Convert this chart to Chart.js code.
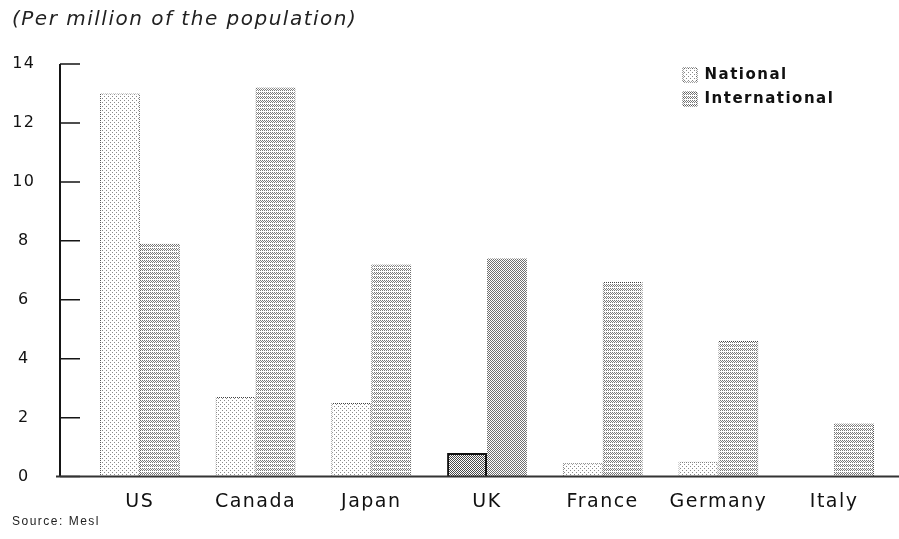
<!DOCTYPE html>
<html>
<head>
<meta charset="utf-8">
<script src="https://cdn.jsdelivr.net/npm/chart.js@4/dist/chart.umd.min.js"></script>
<style>
  html, body { margin: 0; padding: 0; background: #fff; }
  #wrap { width: 899px; height: 539px; }
</style>
</head>
<body>
<div id="wrap"><canvas id="chart"></canvas></div>
<script>
const countries = ["US", "Canada", "Japan", "UK", "France", "Germany", "Italy"];
const national = [13.0, 2.7, 2.5, 0.8, 0.45, 0.5, 0];
const international = [7.9, 13.2, 7.2, 7.4, 6.6, 4.6, 1.8];
const seriesNames = ["National", "International"];
const yMax = 14;
const yStep = 2;
const highlight = countries.indexOf("UK");

/* halftone-ish fills */
function makePattern(size, ink, cells) {
  const c = document.createElement("canvas");
  c.width = c.height = size;
  const g = c.getContext("2d");
  g.fillStyle = "#fff";
  g.fillRect(0, 0, size, size);
  g.fillStyle = ink;
  cells.forEach(([x, y]) => g.fillRect(x, y, 1, 1));
  return g.createPattern(c, "repeat");
}

const natFill = makePattern(4, "#8a8a8a", [[0,0],[2,2]]);
const intFill = makePattern(4, "#7a7a7a", [[0,0],[2,0],[1,1],[3,1],[0,2],[2,2]]);
const ukNatFill = makePattern(2, "#4a4a4a", [[0,0],[1,1]]);
const ukIntFill = makePattern(2, "#707070", [[0,0],[1,1]]);
const dotted = makePattern(2, "#444", [[0,0],[1,1]]);

/* spacing for the stretched scan lettering */
const letterSpacing = {
  id: "letterSpacing",
  beforeDraw(chart) { chart.ctx.letterSpacing = "1.5px"; }
};

/* move legend into the top right corner */
const placeBlocks = {
  id: "placeBlocks",
  afterLayout(chart) {
    if (chart.legend) {
      chart.legend.left = 674;
      chart.legend.top = 58.5;
    }
  }
};

/* axis line with inward ticks, and the baseline */
const axisLines = {
  id: "axisLines",
  afterDatasetsDraw(chart) {
    const {ctx, chartArea, scales: {y}} = chart;
    const x0 = chartArea.left - 22;
    const yTop = y.getPixelForValue(yMax);
    const yZero = y.getPixelForValue(0);
    ctx.save();
    ctx.strokeStyle = "#151515";
    ctx.lineWidth = 2;
    ctx.beginPath();
    ctx.moveTo(x0, yTop);
    ctx.lineTo(x0, yZero);
    ctx.stroke();
    ctx.lineWidth = 1.5;
    ctx.beginPath();
    y.ticks.forEach(t => {
      const py = y.getPixelForValue(t.value);
      ctx.moveTo(x0, py);
      ctx.lineTo(x0 + 20, py);
    });
    ctx.stroke();
    ctx.strokeStyle = "#333";
    ctx.lineWidth = 2;
    ctx.beginPath();
    ctx.moveTo(x0 - 4, yZero);
    ctx.lineTo(chart.width, yZero);
    ctx.stroke();
    ctx.restore();
  }
};

Chart.defaults.font.family = "'DejaVu Sans', sans-serif";
Chart.defaults.color = "#111";

new Chart(document.getElementById("chart"), {
  type: "bar",
  data: {
    labels: countries,
    datasets: [
      {
        label: seriesNames[0],
        data: national,
        backgroundColor: c => c.dataIndex === highlight ? ukNatFill : natFill,
        borderColor: c => c.dataIndex === highlight ? "#111" : dotted,
        borderWidth: c => c.dataIndex === highlight ? 2 : (national[c.dataIndex] === 0 ? 0 : 1)
      },
      {
        label: seriesNames[1],
        data: international,
        backgroundColor: c => c.dataIndex === highlight ? ukIntFill : intFill,
        borderColor: dotted,
        borderWidth: c => c.dataIndex === highlight ? 0 : 1
      }
    ]
  },
  options: {
    responsive: true,
    maintainAspectRatio: false,
    animation: false,
    layout: { padding: { left: 12, right: 7, top: 0, bottom: 0 } },
    datasets: { bar: { categoryPercentage: 0.69, barPercentage: 1.0 } },
    scales: {
      x: {
        grid: { display: false },
        border: { display: false },
        ticks: { font: { size: 19 }, padding: 6, maxRotation: 0 },
        afterFit: s => { s.height = 34; }
      },
      y: {
        min: 0,
        max: yMax,
        grid: { display: false },
        border: { display: false },
        ticks: { stepSize: yStep, font: { size: 16 }, crossAlign: "center", padding: 40 },
        afterFit: s => { s.width = 70; }
      }
    },
    plugins: {
      title: {
        display: true,
        text: "(Per million of the population)",
        align: "start",
        color: "#222",
        font: { size: 20, style: "italic", weight: "normal" },
        padding: { top: 8, bottom: 32 }
      },
      subtitle: {
        display: true,
        text: "Source: Mesl",
        position: "bottom",
        align: "start",
        color: "#222",
        font: { size: 12, family: "'Liberation Sans', sans-serif" },
        padding: { top: 4, bottom: 10 }
      },
      legend: {
        position: "chartArea",
        align: "start",
        labels: {
          boxWidth: 14,
          boxHeight: 14,
          padding: 9,
          color: "#111",
          font: { size: 15, weight: "bold" }
        }
      },
      tooltip: { enabled: false }
    }
  },
  plugins: [letterSpacing, placeBlocks, axisLines]
});
</script>
</body>
</html>
